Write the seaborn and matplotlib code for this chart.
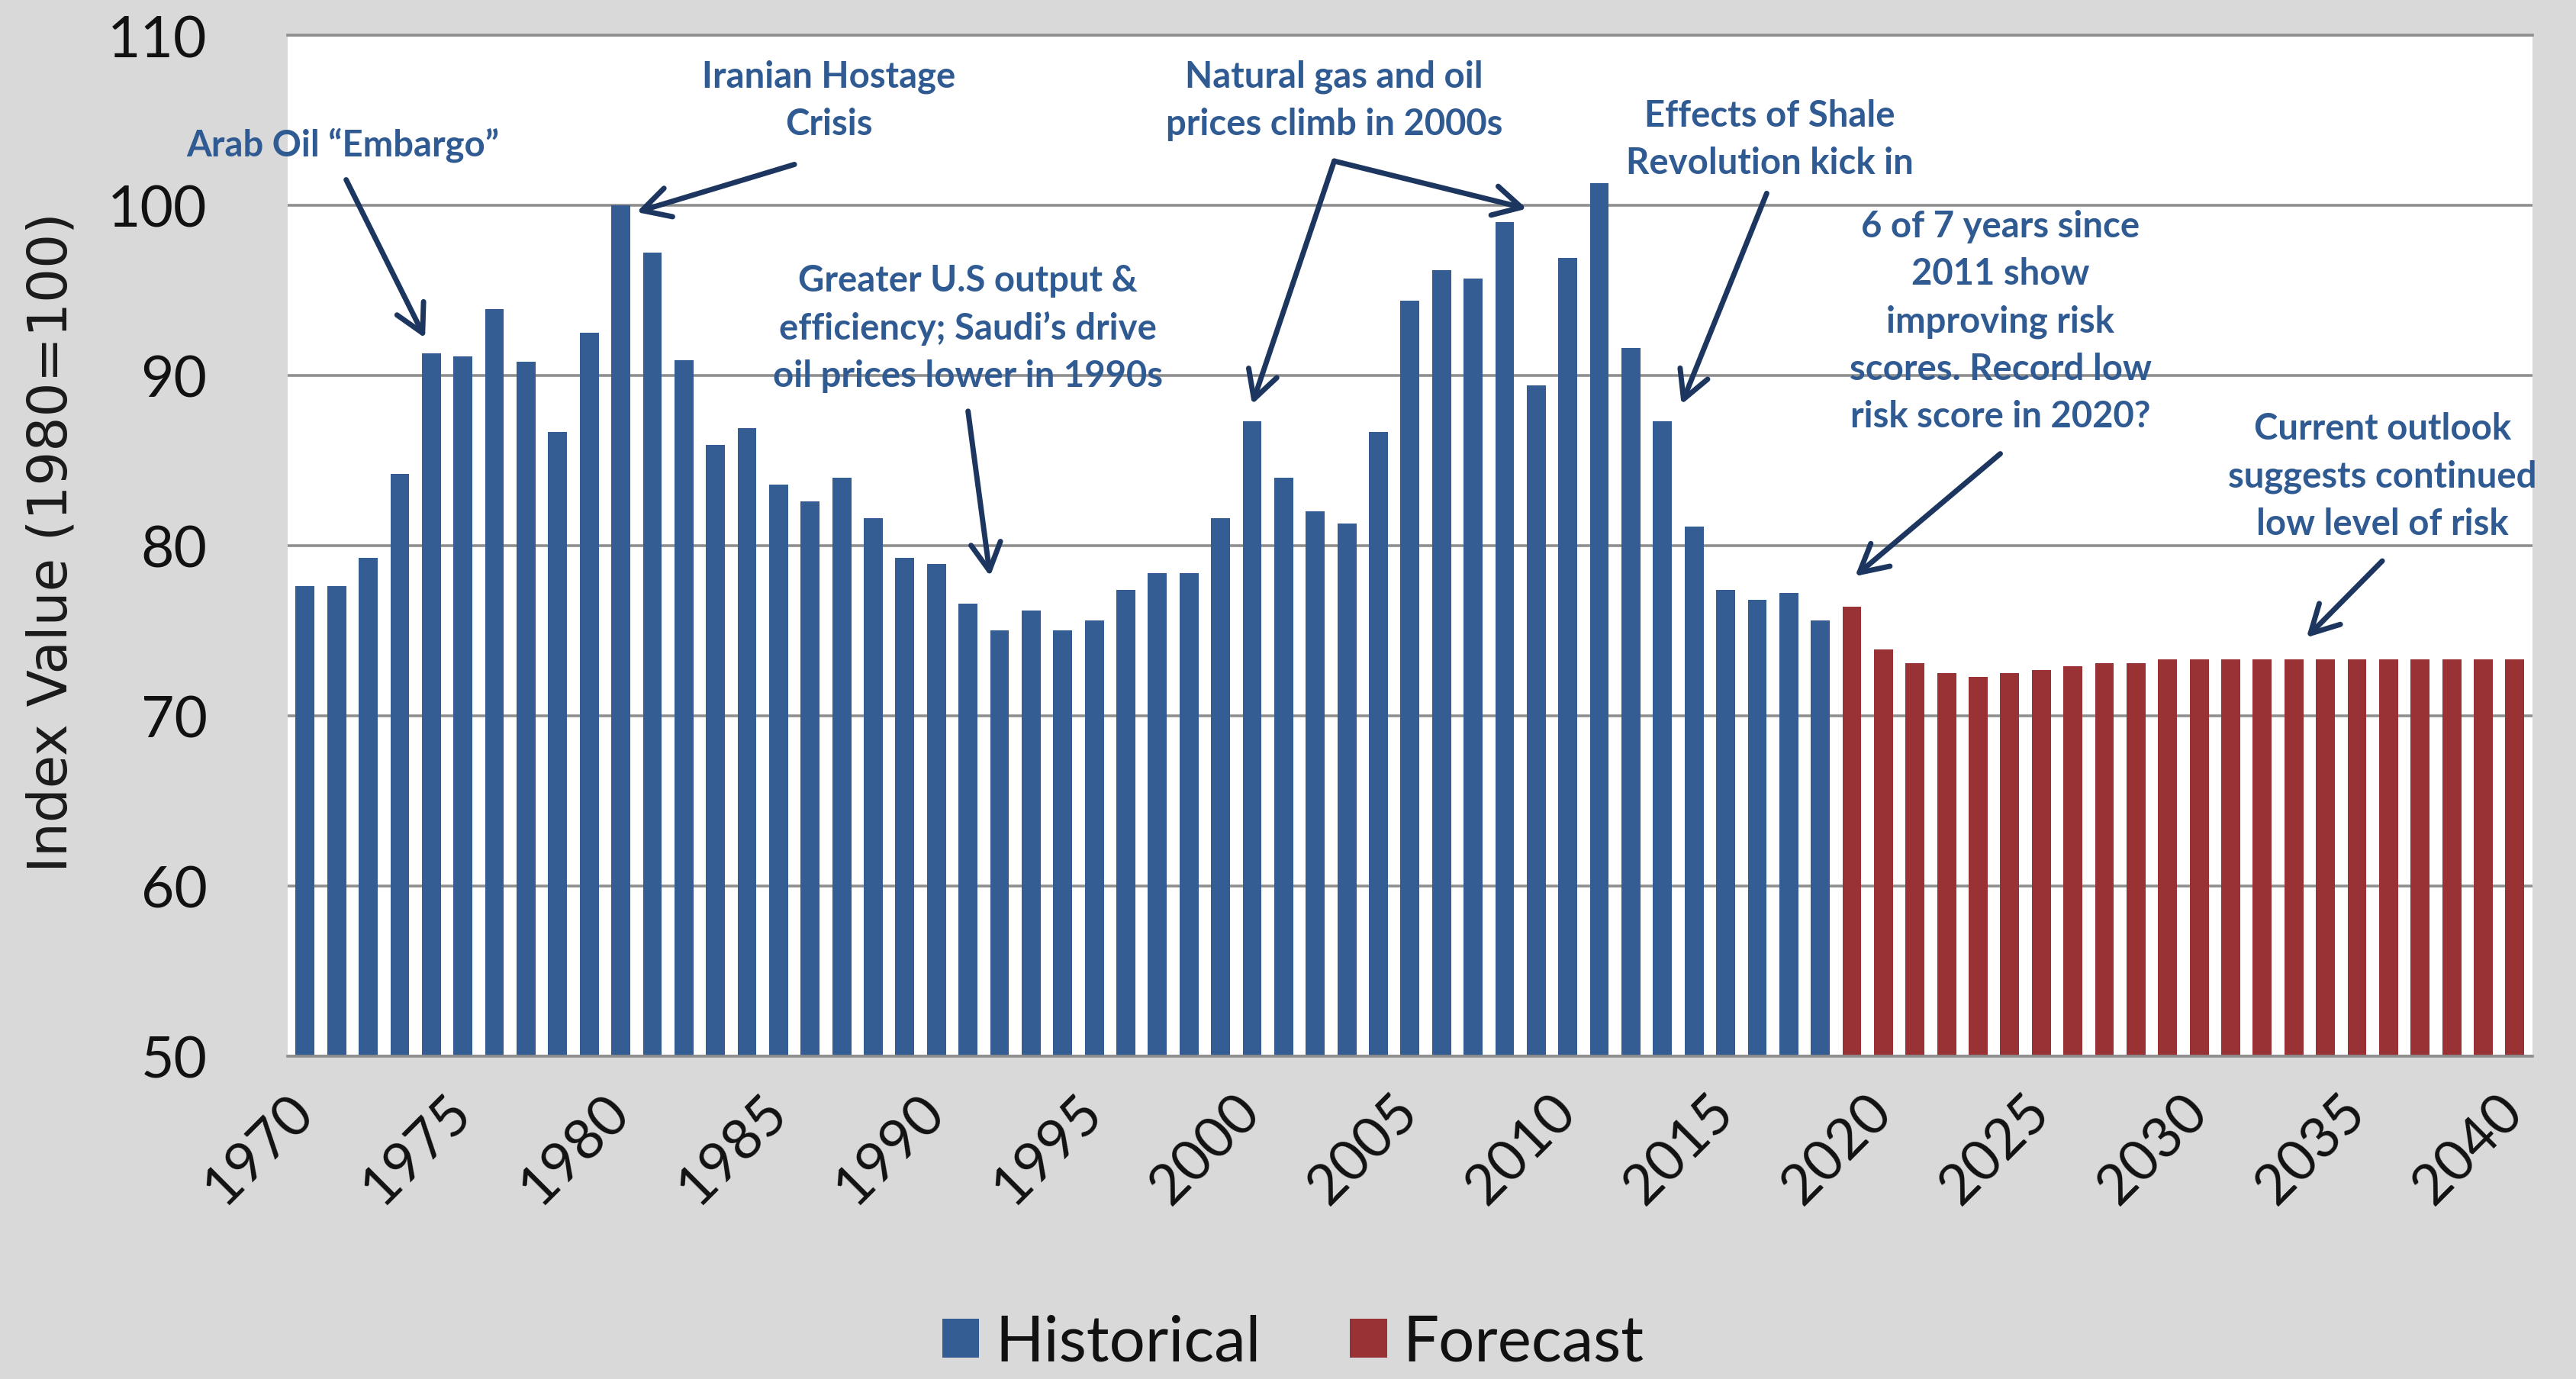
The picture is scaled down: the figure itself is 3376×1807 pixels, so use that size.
import numpy as np
import pandas as pd
import matplotlib
matplotlib.use("Agg")
import matplotlib.pyplot as plt
import seaborn as sns

# index values (1980=100)
hist_years = list(range(1970, 2019))
historical = [77.6, 77.6, 79.3, 84.2, 91.3, 91.1, 93.9, 90.8, 86.7, 92.5,
              100.0, 97.2, 90.9, 85.9, 86.9, 83.6, 82.6, 84.0, 81.6, 79.3,
              78.9, 76.6, 75.0, 76.2, 75.0, 75.6, 77.4, 78.4, 78.4, 81.6,
              87.3, 84.0, 82.0, 81.3, 86.7, 94.4, 96.2, 95.7, 99.0, 89.4,
              96.9, 101.3, 91.6, 87.3, 81.1, 77.4, 76.8, 77.2, 75.6]
fc_years = list(range(2019, 2041))
forecast = [76.4, 73.9, 73.1, 72.5, 72.3, 72.5, 72.7, 72.9, 73.1, 73.1, 73.3,
            73.3, 73.3, 73.3, 73.3, 73.3, 73.3, 73.3, 73.3, 73.3, 73.3, 73.3]
tick_years = [1970, 1975, 1980, 1985, 1990, 1995, 2000, 2005,
              2010, 2015, 2020, 2025, 2030, 2035, 2040]
y_ticks = [50, 60, 70, 80, 90, 100, 110]

df = pd.DataFrame({
    "year": hist_years + fc_years,
    "value": historical + forecast,
    "series": ["Historical"] * len(historical) + ["Forecast"] * len(forecast),
})

blue = "#335D93"
red = "#983234"
txt_c = "#2F5A92"
arrow_c = "#1C3660"

sns.set_style("white")
plt.rcParams["font.family"] = ["Lato", "DejaVu Sans"]

fig = plt.figure(figsize=(16.88, 9.04), dpi=200, facecolor="#D9D9D9")
ax = fig.add_axes([0.1117, 0.234, 0.8713, 0.740])
ax.set_facecolor("white")

sns.barplot(data=df, x="year", y="value", hue="series",
            palette={"Historical": blue, "Forecast": red},
            dodge=False, width=0.6, saturation=1, linewidth=0, ax=ax)

ax.set_ylim(50, 110)
ax.set_xlim(-0.55, len(df) - 0.45)
ax.set_yticks(y_ticks)
ax.yaxis.grid(True, color="#8E8E8E", lw=1.3)
ax.set_axisbelow(True)
for s in ["left", "right"]:
    ax.spines[s].set_visible(False)
for s in ["top", "bottom"]:
    ax.spines[s].set_color("#8E8E8E")
    ax.spines[s].set_linewidth(1.3)

all_years = df["year"].tolist()
ax.set_xticks([all_years.index(y) for y in tick_years])
ax.set_xticklabels([str(y) for y in tick_years], rotation=45, ha="right",
                   va="center", rotation_mode="anchor")
ax.tick_params(axis="x", length=0, pad=22, labelsize=26.5, labelcolor="#111111")
ax.tick_params(axis="y", length=0, pad=38, labelsize=27, labelcolor="#111111")
ax.set_xlabel("")
ax.set_ylabel("")
fig.text(0.02, 0.607, "Index Value (1980=100)", rotation=90, ha="center",
         va="center", fontsize=25.5, family="DejaVu Sans", color="#1A1A1A")

handles, labels = ax.get_legend_handles_labels()
ax.get_legend().remove()
fig.legend(handles, labels, loc="center", bbox_to_anchor=(0.502, 0.026),
           ncol=2, frameon=False, fontsize=30, handlelength=0.58,
           handleheight=0.58, handletextpad=0.25, columnspacing=1.4,
           labelcolor="#111111")

def idx(year):
    return all_years.index(year)

notes = [
    ("Arab Oil \u201cEmbargo\u201d", 1.2, 103.6),
    ("Iranian Hostage\nCrisis", 16.6, 106.2),
    ("Greater U.S output &\nefficiency; Saudi\u2019s drive\noil prices lower in 1990s", 21.0, 92.8),
    ("Natural gas and oil\nprices climb in 2000s", 32.6, 106.2),
    ("Effects of Shale\nRevolution kick in", 46.4, 103.9),
    ("6 of 7 years since\n2011 show\nimproving risk\nscores. Record low\nrisk score in 2020?", 53.7, 93.2),
    ("Current outlook\nsuggests continued\nlow level of risk", 65.8, 84.1),
]
for s, x, y in notes:
    ax.text(x, y, s, ha="center", va="center", fontsize=17,
            fontweight="bold", color=txt_c, linespacing=1.5, clip_on=False)

arrows = [
    ((1.3, 101.5), (idx(1973) + 0.8, 92.2)),
    ((15.5, 102.4), (idx(1980) + 0.5, 99.6)),
    ((21.0, 87.9), (21.7, 78.2)),
    ((32.6, 102.6), (idx(2000), 88.3)),
    ((32.6, 102.6), (idx(2008) + 0.7, 99.8)),
    ((46.3, 100.7), (idx(2013) + 0.6, 88.3)),
    ((53.7, 85.4), (idx(2019) + 0.1, 78.2)),
    ((65.8, 79.1), (63.4, 74.6)),
]
for tail, head in arrows:
    ax.annotate("", xy=head, xytext=tail,
                arrowprops=dict(arrowstyle="->,head_length=0.65,head_width=0.35",
                                color=arrow_c, lw=2.5, mutation_scale=20,
                                shrinkA=0, shrinkB=0))

fig.savefig("out.png", dpi=200, facecolor=fig.get_facecolor())
